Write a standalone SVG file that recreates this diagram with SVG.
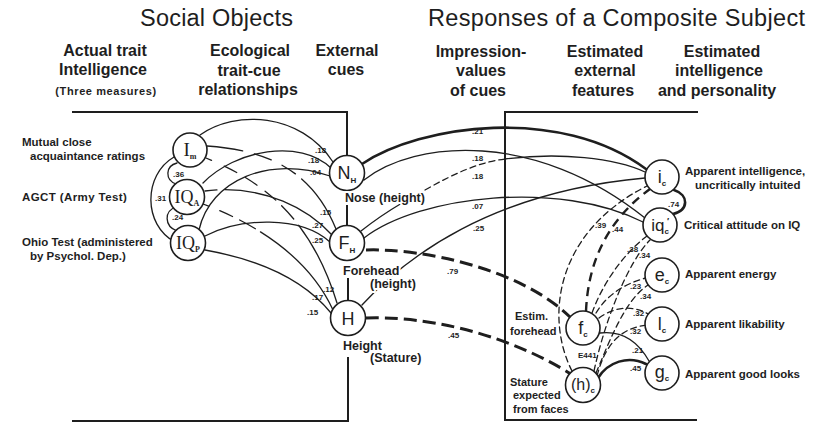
<svg xmlns="http://www.w3.org/2000/svg" width="821" height="423" viewBox="0 0 821 423">
  <style>
    .ln { fill: none; stroke: #1e1e1e; stroke-width: 1.3; stroke-linecap: round; }
    .dsh { stroke-dasharray: 6 4; }
    .thk { stroke-width: 2.6; }
    .tdsh { stroke-width: 3; stroke-dasharray: 13 6; stroke-linecap: butt; }
    .box { fill: none; stroke: #1e1e1e; stroke-width: 2; }
    .node circle { fill: #fff; stroke: #1e1e1e; stroke-width: 1.6; }
    text { fill: #1e1e1e; font-family: "Liberation Sans", Arial, sans-serif; }
    .ttl { font-size: 23.5px; }
    .hd { font-size: 16px; font-weight: bold; text-anchor: middle; }
    .lb { font-size: 11.5px; font-weight: bold; }
    .ml { font-size: 12.5px; font-weight: bold; }
    .cf { font-size: 8px; font-weight: bold; }
    .nd { font-size: 18px; text-anchor: middle; }
    .ser { font-family: "Liberation Serif", "Times New Roman", serif; }
    .sub { font-size: 8px; font-weight: bold; }
    .halo { stroke: #fff; stroke-width: 4; paint-order: stroke; stroke-linejoin: round; }
  </style>
  <rect width="821" height="423" fill="#fff"/>

  <!-- titles and column headings -->
  <g id="headings">
    <text class="ttl" x="140" y="26" textLength="153" lengthAdjust="spacing">Social Objects</text>
    <text class="ttl" x="428" y="26" textLength="377" lengthAdjust="spacing">Responses of a Composite Subject</text>
    <text class="hd" x="105" y="56">Actual trait</text>
    <text class="hd" x="103" y="75">Intelligence</text>
    <text class="lb" x="106" y="95" text-anchor="middle" style="font-size:11px;letter-spacing:0.6px">(Three measures)</text>
    <text class="hd" x="250" y="56">Ecological</text>
    <text class="hd" x="249" y="76">trait-cue</text>
    <text class="hd" x="248" y="95">relationships</text>
    <text class="hd" x="347" y="56">External</text>
    <text class="hd" x="346" y="75">cues</text>
    <text class="hd" x="481" y="57">Impression-</text>
    <text class="hd" x="481" y="76">values</text>
    <text class="hd" x="478" y="96">of cues</text>
    <text class="hd" x="605" y="57">Estimated</text>
    <text class="hd" x="605" y="76">external</text>
    <text class="hd" x="603" y="96">features</text>
    <text class="hd" x="722" y="57">Estimated</text>
    <text class="hd" x="719" y="76">intelligence</text>
    <text class="hd" x="717" y="96">and personality</text>
  </g>

  <!-- frames of the two halves -->
  <g id="frames">
    <path class="box" d="M72,112 H347 V156 M347,205 V226 M348,278 V301 M348,357 V421 H72"/>
    <path class="box" d="M698,112 H505 V420 H697"/>
  </g>

  <g id="connectors">
    <!-- intercorrelations of the three measures -->
    <path class="ln" d="M174,157 C143,175 143,225 175,242"/>
    <path class="ln" d="M177,163 C165,166 165,180 176,184"/>
    <path class="ln" d="M176,207 C164,211 164,226 177,231"/>

    <!-- measures to cues -->
    <path class="ln" d="M200,135 C235,110 300,112 333,162"/>
    <path class="ln" d="M203,183 C235,150 300,138 331,168"/>
    <path class="ln" d="M199,230 C210,180 270,155 330,176"/>
    <path class="ln" d="M207,146 C260,150 310,165 336,229" stroke-dasharray="36 12 18 12 16 8 200"/>
    <path class="ln" d="M205,191 C250,185 300,200 332,235" stroke-dasharray="12 8 400"/>
    <path class="ln" d="M205,236 C240,218 300,215 330,242"/>
    <path class="ln" d="M206,158 C260,180 310,215 337,303" stroke-dasharray="6 14 14 10 14 10 14 8 18 8 300"/>
    <path class="ln" d="M203,204 C260,225 310,260 333,310" stroke-dasharray="6 12 14 8 18 6 300"/>
    <path class="ln" d="M205,250 C250,258 300,275 331,313"/>

    <!-- cues to impressions -->
    <path class="ln thk" d="M362,164 C420,125 560,105 646,169"/>
    <path class="ln" d="M364,180 C415,140 535,130 645,218"/>
    <path class="ln" d="M361,231 Q380,216 402,203"/>
    <path class="ln dsh" d="M425,190 C455,173 480,162 505,159" stroke-dasharray="10 8"/>
    <path class="ln" d="M505,159 C560,152 615,158 645,172"/>
    <path class="ln" d="M364,238 C420,195 560,180 643,222"/>
    <path class="ln" d="M362,305 C405,258 490,192 645,178"/>
    <path class="ln tdsh" d="M366,250 C420,248 520,268 570,317"/>
    <path class="ln tdsh" d="M366,318 C420,316 500,330 571,374"/>

    <!-- estimated features to estimated traits -->
    <path class="ln dsh" d="M572,371 C545,318 555,232 647,186"/>
    <path class="ln tdsh" d="M586,311 C588,265 605,222 650,189" style="stroke-width:2.4;stroke-dasharray:9 6"/>
    <path class="ln dsh" d="M592,313 C602,285 622,255 647,236"/>
    <path class="ln dsh" d="M594,371 C605,320 628,262 650,240"/>
    <path class="ln dsh" d="M596,313 C605,298 620,285 646,278"/>
    <path class="ln dsh" d="M596,373 C610,340 625,300 648,285"/>
    <path class="ln dsh" d="M599,318 C612,308 632,304 648,314"/>
    <path class="ln dsh" d="M597,376 C605,345 620,328 647,325"/>
    <path class="ln" d="M600,333 C625,330 640,345 649,361"/>
    <path class="ln thk" d="M598,378 C608,362 628,355 646,364"/>
    <path class="ln thk" d="M674,190 C689,195 689,210 673,214"/>
  </g>

  <!-- measures of actual intelligence -->
  <g id="node-im" class="node">
    <circle cx="190" cy="150" r="17"/>
    <text class="nd ser" x="190" y="156" style="font-size:19px">I<tspan class="sub" dy="3">m</tspan></text>
  </g>
  <g id="node-iqa" class="node">
    <circle cx="187" cy="197" r="17.5"/>
    <text class="nd ser" x="187" y="203" style="font-size:18px">IQ<tspan class="sub" dy="3">A</tspan></text>
  </g>
  <g id="node-iqp" class="node">
    <circle cx="188" cy="243" r="17.5"/>
    <text class="nd ser" x="188" y="249" style="font-size:18px">IQ<tspan class="sub" dy="3">P</tspan></text>
  </g>

  <!-- external cues -->
  <g id="node-nh" class="node">
    <circle cx="347" cy="173" r="17.5"/>
    <text class="nd" x="347" y="179">N<tspan class="sub" dy="4">H</tspan></text>
  </g>
  <g id="node-fh" class="node">
    <circle cx="347" cy="243" r="17.5"/>
    <text class="nd" x="347" y="249">F<tspan class="sub" dy="4">H</tspan></text>
  </g>
  <g id="node-h" class="node">
    <circle cx="348" cy="318" r="17.5"/>
    <text class="nd" x="348" y="325">H</text>
  </g>

  <!-- estimated external features -->
  <g id="node-fc" class="node">
    <circle cx="583" cy="328" r="17"/>
    <text class="nd" x="583" y="334">f<tspan class="sub" dy="3">c</tspan></text>
  </g>
  <g id="node-hc" class="node">
    <circle cx="583" cy="385" r="17.5"/>
    <text class="nd" x="583" y="390" style="font-size:16px">(h)<tspan class="sub" dy="3">c</tspan></text>
  </g>

  <!-- estimated intelligence and personality -->
  <g id="node-ic" class="node">
    <circle cx="662" cy="177" r="17"/>
    <text class="nd" x="662" y="183">i<tspan class="sub" dy="3">c</tspan></text>
  </g>
  <g id="node-iqc" class="node">
    <circle cx="660" cy="225" r="17"/>
    <text class="nd" x="660" y="231" style="font-size:17px">iq<tspan class="sub" dy="3">c</tspan></text>
    <text x="667" y="224" style="font-size:9px;font-weight:bold">′</text>
  </g>
  <g id="node-ec" class="node">
    <circle cx="662" cy="275" r="17"/>
    <text class="nd" x="662" y="281">e<tspan class="sub" dy="3">c</tspan></text>
  </g>
  <g id="node-lc" class="node">
    <circle cx="662" cy="324" r="17"/>
    <text class="nd" x="662" y="330">l<tspan class="sub" dy="3">c</tspan></text>
  </g>
  <g id="node-gc" class="node">
    <circle cx="662" cy="373" r="17"/>
    <text class="nd" x="662" y="378">g<tspan class="sub" dy="3">c</tspan></text>
  </g>

  <!-- node captions -->
  <g id="captions">
    <text class="lb" x="22" y="146">Mutual close</text>
    <text class="lb" x="30" y="160">acquaintance ratings</text>
    <text class="lb" x="22" y="201" style="letter-spacing:0.4px">AGCT (Army Test)</text>
    <text class="lb" x="22" y="246">Ohio Test (administered</text>
    <text class="lb" x="30" y="260">by Psychol. Dep.)</text>
    <text class="ml halo" x="345" y="202">Nose (height)</text>
    <text class="ml halo" x="343" y="275">Forehead</text>
    <text class="ml halo" x="370" y="288">(height)</text>
    <text class="ml halo" x="343" y="350">Height</text>
    <text class="ml halo" x="370" y="362">(Stature)</text>
    <text class="lb" x="515" y="320" style="font-size:11px">Estim.</text>
    <text class="lb" x="510" y="335" style="font-size:11px">forehead</text>
    <text class="lb" x="510" y="386" style="font-size:11px">Stature</text>
    <text class="lb" x="513" y="399" style="font-size:11px">expected</text>
    <text class="lb" x="513" y="413" style="font-size:11px">from faces</text>
    <text class="lb" x="685" y="175">Apparent intelligence,</text>
    <text class="lb" x="695" y="189">uncritically intuited</text>
    <text class="lb" x="684" y="229">Critical attitude on IQ</text>
    <text class="lb" x="685" y="278">Apparent energy</text>
    <text class="lb" x="685" y="328">Apparent likability</text>
    <text class="lb" x="685" y="378">Apparent good looks</text>
  </g>

  <!-- correlation coefficients -->
  <g id="coefficients" class="cf">
    <text class="cf" x="173" y="177">.36</text>
    <text class="cf" x="155" y="201">.31</text>
    <text class="cf" x="172" y="220">.24</text>
    <text class="cf" x="315" y="153">.18</text>
    <text class="cf" x="308" y="163">.18</text>
    <text class="cf" x="310" y="175">.04</text>
    <text class="cf" x="320" y="215">.15</text>
    <text class="cf" x="312" y="228">.27</text>
    <text class="cf" x="312" y="243">.25</text>
    <text class="cf" x="323" y="292">.12</text>
    <text class="cf" x="312" y="300">.17</text>
    <text class="cf" x="307" y="315">.15</text>
    <text class="cf" x="472" y="134">.21</text>
    <text class="cf" x="472" y="161">.18</text>
    <text class="cf" x="472" y="179">.18</text>
    <text class="cf" x="472" y="209">.07</text>
    <text class="cf" x="473" y="231">.25</text>
    <text class="cf" x="447" y="274">.79</text>
    <text class="cf" x="448" y="338">.45</text>
    <text class="cf" x="668" y="207">.74</text>
    <text class="cf" x="595" y="228">.39</text>
    <text class="cf" x="612" y="232">.44</text>
    <text class="cf" x="627" y="252">.38</text>
    <text class="cf" x="639" y="258">.34</text>
    <text class="cf" x="630" y="289">.23</text>
    <text class="cf" x="640" y="299">.34</text>
    <text class="cf" x="633" y="316">.32</text>
    <text class="cf" x="630" y="334">.32</text>
    <text class="cf" x="632" y="353">.21</text>
    <text class="cf" x="630" y="371">.45</text>
    <text class="cf" x="578" y="358">E441</text>
  </g>
</svg>
